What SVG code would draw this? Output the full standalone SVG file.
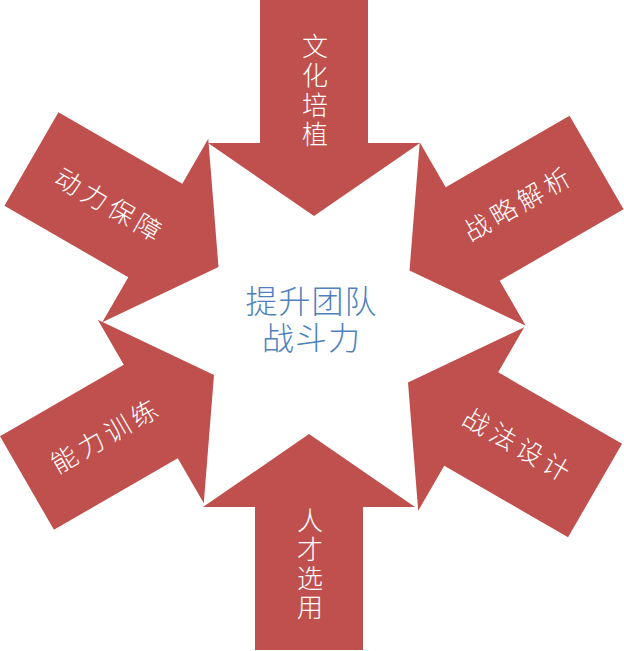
<svg xmlns="http://www.w3.org/2000/svg" width="624" height="651" viewBox="0 0 624 651">
<style>
.arrow{fill:#C0504D;stroke:none}
.lbl{font-family:"Noto Sans CJK SC","Noto Sans CJK JP",sans-serif;font-size:26px;fill:#FFFFFF;text-anchor:middle;font-weight:300}
.rot{letter-spacing:4.7px}
.vert{font-family:"Noto Sans CJK SC","Noto Sans CJK JP",sans-serif;font-size:26px;fill:#FFFFFF;font-weight:300;writing-mode:vertical-rl;text-anchor:start}
.ctr{font-family:"Liberation Sans","Noto Sans CJK SC","Noto Sans CJK JP",sans-serif;font-size:32px;fill:#4F81BD;text-anchor:middle;letter-spacing:1px;font-weight:300}
</style>
<defs>
<polygon id="arr" points="0,0 -73,-106 -73,-54 -216,-54 -216,54 -73,54 -73,106"/>
</defs>
<rect width="624" height="651" fill="#FFFFFF"/>
<g id="connectors">
<use href="#arr" class="arrow" transform="translate(314,216) rotate(90)"/>
<use href="#arr" class="arrow" transform="translate(309,434) rotate(-90)"/>
<use href="#arr" class="arrow" transform="translate(218.5,267) rotate(30)"/>
<use href="#arr" class="arrow" transform="translate(214,375) rotate(-30)"/>
<use href="#arr" class="arrow" transform="translate(409.5,270.5) rotate(150)"/>
<use href="#arr" class="arrow" transform="translate(408,382.5) rotate(210)"/>
</g>
<g id="node-top">
<text class="vert" x="315" y="33" style="letter-spacing:3.5px">文化培植</text>
</g>
<g id="node-bottom">
<text class="vert" x="310" y="507" style="letter-spacing:3px">人才选用</text>
</g>
<g id="node-topleft">
<text class="lbl rot" transform="translate(108.5,204) rotate(30)" x="2.35" y="10">动力保障</text>
</g>
<g id="node-topright">
<text class="lbl rot" transform="translate(516.7,204) rotate(-30)" x="2.35" y="10">战略解析</text>
</g>
<g id="node-bottomleft">
<text class="lbl rot" transform="translate(104,436) rotate(-30)" x="2.35" y="10">能力训练</text>
</g>
<g id="node-bottomright">
<text class="lbl rot" transform="translate(516.7,444) rotate(30)" x="2.35" y="10">战法设计</text>
</g>
<g id="node-center">
<text class="ctr"><tspan x="311.5" y="313">提升团队</tspan><tspan x="311.5" y="350">战斗力</tspan></text>
</g>
</svg>
